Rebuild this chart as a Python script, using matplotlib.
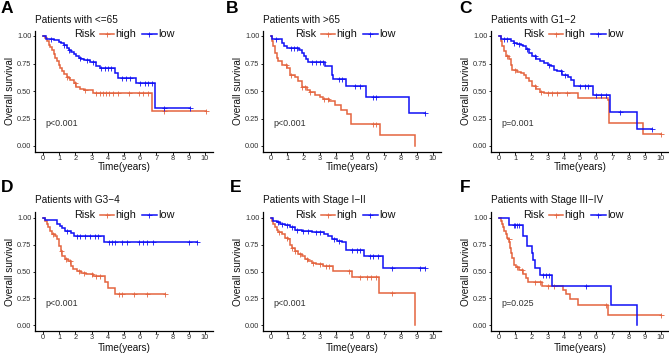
import numpy as np
import matplotlib
matplotlib.use("Agg")
import matplotlib.pyplot as plt
from matplotlib.lines import Line2D

plt.rcParams['font.family'] = ['Liberation Sans', 'DejaVu Sans']

# ---------------- data ----------------
panel_letters = ["A", "B", "C", "D", "E", "F"]
panel_titles = ["Patients with <=65", "Patients with >65", "Patients with G1\u22122",
                "Patients with G3\u22124", "Patients with Stage I\u2212II", "Patients with Stage III\u2212IV"]
p_values = ["p<0.001", "p<0.001", "p=0.001", "p<0.001", "p<0.001", "p=0.025"]
x_ticks = [0, 1, 2, 3, 4, 5, 6, 7, 8, 9, 10]
y_ticks = [0.00, 0.25, 0.50, 0.75, 1.00]
y_tick_labels = ["0.00", "0.25", "0.50", "0.75", "1.00"]
legend_title = "Risk"
group_labels = ["high", "low"]

# Panel A
A_high_t = [0, 0.1, 0.25, 0.35, 0.45, 0.55, 0.66, 0.76, 0.86, 0.97, 1.07, 1.17, 1.28, 1.48, 1.6, 1.69, 1.9, 2.05, 2.25, 2.5, 3.1, 6.7]
A_high_s = [1.0, 0.98, 0.955, 0.92, 0.90, 0.87, 0.84, 0.80, 0.77, 0.74, 0.71, 0.68, 0.655, 0.63, 0.615, 0.60, 0.57, 0.54, 0.52, 0.505, 0.48, 0.32]
A_high_end = 10.05
A_high_cens = [1.5, 2.0, 2.6, 3.3, 3.5, 3.7, 3.9, 4.1, 4.3, 4.6, 5.3, 5.9, 6.2, 6.5, 7.5, 10.05]
A_low_t = [0, 0.15, 0.7, 0.97, 1.1, 1.27, 1.45, 1.58, 1.75, 1.89, 2.05, 2.2, 2.35, 2.5, 2.9, 3.3, 3.5, 4.45, 4.66, 5.75, 6.92]
A_low_s = [1.0, 0.975, 0.965, 0.95, 0.935, 0.92, 0.895, 0.87, 0.855, 0.84, 0.82, 0.80, 0.79, 0.78, 0.765, 0.73, 0.705, 0.66, 0.62, 0.575, 0.345]
A_low_end = 9.07
A_low_cens = [0.5, 1.3, 1.6, 2.3, 2.7, 3.1, 3.6, 3.8, 4.0, 4.2, 4.9, 5.1, 5.4, 6.0, 6.3, 6.5, 6.7, 7.5, 9.07]

# Panel B
B_high_t = [0, 0.08, 0.14, 0.25, 0.35, 0.45, 0.66, 0.97, 1.17, 1.48, 1.69, 1.89, 2.2, 2.4, 2.7, 3.0, 3.2, 3.6, 3.95, 4.3, 4.67, 4.95, 6.75, 8.9]
B_high_s = [1.0, 0.955, 0.91, 0.85, 0.80, 0.77, 0.74, 0.71, 0.65, 0.63, 0.59, 0.54, 0.51, 0.49, 0.465, 0.45, 0.425, 0.41, 0.37, 0.33, 0.29, 0.20, 0.10, 0.0]
B_high_end = 8.9
B_high_cens = [0.9, 1.2, 1.9, 2.1, 2.4, 3.3, 3.5, 6.3, 6.5]
B_low_t = [0, 0.05, 0.65, 0.82, 1.0, 1.75, 1.9, 2.05, 2.16, 2.27, 3.35, 3.75, 3.85, 4.6, 5.85, 8.55]
B_low_s = [1.0, 0.97, 0.935, 0.91, 0.89, 0.87, 0.845, 0.82, 0.79, 0.76, 0.725, 0.65, 0.605, 0.545, 0.45, 0.30]
B_low_end = 9.5
B_low_cens = [0.3, 1.2, 1.4, 1.6, 2.5, 2.8, 3.0, 3.2, 4.2, 4.4, 5.2, 5.5, 6.3, 6.5, 9.5]

# Panel C
C_high_t = [0, 0.1, 0.2, 0.31, 0.45, 0.62, 0.72, 0.82, 1.13, 1.33, 1.54, 1.64, 1.85, 2.05, 2.3, 2.5, 2.8, 4.9, 6.7, 6.8, 8.9]
C_high_s = [1.0, 0.955, 0.91, 0.86, 0.82, 0.79, 0.74, 0.69, 0.675, 0.665, 0.65, 0.62, 0.59, 0.545, 0.515, 0.495, 0.48, 0.435, 0.42, 0.21, 0.11]
C_high_end = 10.0
C_high_cens = [0.5, 1.0, 2.2, 2.6, 3.0, 3.3, 3.6, 4.2, 10.0]
C_low_t = [0, 0.1, 0.72, 0.9, 1.13, 1.35, 1.5, 1.64, 1.85, 2.05, 2.3, 2.5, 2.8, 3.0, 3.2, 3.4, 3.6, 3.9, 4.25, 4.45, 4.65, 5.8, 6.85, 8.55]
C_low_s = [1.0, 0.97, 0.955, 0.94, 0.925, 0.915, 0.905, 0.88, 0.85, 0.82, 0.79, 0.77, 0.755, 0.74, 0.725, 0.695, 0.68, 0.65, 0.63, 0.60, 0.545, 0.46, 0.305, 0.155]
C_low_end = 9.45
C_low_cens = [0.3, 0.5, 0.9, 1.2, 1.7, 2.2, 3.1, 3.8, 4.1, 5.0, 5.3, 5.5, 6.0, 6.3, 6.6, 7.5, 9.45]

# Panel D
D_high_t = [0, 0.12, 0.22, 0.33, 0.43, 0.53, 0.74, 0.88, 1.0, 1.08, 1.15, 1.35, 1.55, 1.7, 1.86, 2.07, 2.37, 2.68, 3.09, 3.8, 4.0, 4.45]
D_high_s = [1.0, 0.97, 0.94, 0.91, 0.875, 0.845, 0.83, 0.80, 0.74, 0.69, 0.645, 0.615, 0.60, 0.55, 0.52, 0.505, 0.49, 0.475, 0.455, 0.40, 0.35, 0.295]
D_high_end = 7.55
D_high_cens = [0.6, 1.1, 1.4, 1.65, 2.2, 2.5, 3.0, 3.3, 3.5, 4.7, 4.9, 5.6, 6.4, 7.55]
D_low_t = [0, 0.1, 0.85, 1.05, 1.17, 1.35, 1.7, 1.93, 3.75]
D_low_s = [1.0, 0.98, 0.945, 0.92, 0.905, 0.875, 0.855, 0.83, 0.77]
D_low_end = 9.5
D_low_cens = [1.5, 2.1, 2.3, 2.6, 2.9, 3.2, 3.4, 4.05, 4.25, 4.45, 4.85, 5.2, 5.9, 6.2, 6.4, 6.8, 9.0, 9.5]

# Panel E
E_high_t = [0, 0.08, 0.14, 0.25, 0.35, 0.45, 0.65, 0.86, 1.06, 1.17, 1.27, 1.47, 1.68, 1.88, 2.09, 2.29, 2.5, 2.8, 3.2, 3.8, 5.0, 6.67, 8.87]
E_high_s = [1.0, 0.97, 0.94, 0.91, 0.885, 0.865, 0.845, 0.815, 0.80, 0.75, 0.72, 0.69, 0.66, 0.645, 0.615, 0.60, 0.58, 0.57, 0.55, 0.505, 0.45, 0.30, 0.0]
E_high_end = 8.87
E_high_cens = [0.5, 1.0, 1.3, 1.5, 1.8, 2.2, 2.6, 3.0, 3.4, 3.6, 4.8, 5.5, 5.9, 6.2, 6.5, 7.5]
E_low_t = [0, 0.14, 0.35, 0.55, 0.86, 1.17, 1.48, 1.89, 2.5, 3.3, 3.5, 3.74, 4.05, 4.36, 4.62, 5.77, 6.9]
E_low_s = [1.0, 0.97, 0.96, 0.945, 0.93, 0.91, 0.89, 0.875, 0.865, 0.845, 0.83, 0.805, 0.785, 0.77, 0.70, 0.645, 0.535]
E_low_end = 9.5
E_low_cens = [0.4, 0.7, 1.0, 1.3, 1.6, 2.0, 2.3, 2.8, 3.0, 3.9, 4.2, 5.0, 5.3, 5.5, 6.1, 6.3, 6.6, 7.5, 9.2, 9.5]

# Panel F
F_high_t = [0, 0.12, 0.21, 0.27, 0.33, 0.41, 0.47, 0.58, 0.62, 0.68, 0.74, 0.82, 0.95, 1.03, 1.2, 1.5, 1.65, 1.77, 2.67, 3.95, 4.15, 4.38, 4.9, 6.75]
F_high_s = [1.0, 0.97, 0.94, 0.91, 0.875, 0.845, 0.815, 0.80, 0.77, 0.72, 0.675, 0.63, 0.565, 0.545, 0.515, 0.475, 0.44, 0.40, 0.365, 0.325, 0.29, 0.245, 0.19, 0.095]
F_high_end = 10.0
F_high_cens = [0.6, 1.1, 1.4, 2.2, 2.5, 3.0, 3.4, 6.6, 10.0]
F_low_t = [0, 0.6, 1.47, 1.72, 2.02, 2.12, 2.22, 2.5, 3.25, 6.9, 8.5]
F_low_s = [1.0, 0.935, 0.83, 0.735, 0.675, 0.61, 0.535, 0.47, 0.365, 0.185, 0.0]
F_low_end = 8.5
F_low_cens = [0.9, 1.0, 1.1, 1.2, 2.7, 2.9, 3.1, 5.4]

panels = [
    ((A_high_t, A_high_s, A_high_end, A_high_cens), (A_low_t, A_low_s, A_low_end, A_low_cens)),
    ((B_high_t, B_high_s, B_high_end, B_high_cens), (B_low_t, B_low_s, B_low_end, B_low_cens)),
    ((C_high_t, C_high_s, C_high_end, C_high_cens), (C_low_t, C_low_s, C_low_end, C_low_cens)),
    ((D_high_t, D_high_s, D_high_end, D_high_cens), (D_low_t, D_low_s, D_low_end, D_low_cens)),
    ((E_high_t, E_high_s, E_high_end, E_high_cens), (E_low_t, E_low_s, E_low_end, E_low_cens)),
    ((F_high_t, F_high_s, F_high_end, F_high_cens), (F_low_t, F_low_s, F_low_end, F_low_cens)),
]

# ---------------- styling / layout ----------------
W, H = 669, 353
HIGH_COL = "#E4643F"
LOW_COL = "#1010F5"
colors = [HIGH_COL, LOW_COL]

fig = plt.figure(figsize=(W / 100, H / 100), dpi=100)

def fx(px):
    return px / W

def fy(py):
    return 1 - py / H

col_left = [35, 263, 491]
ax_w = 178
row_top = [30.5, 212.3]
row_bot = [151.5, 330.8]
legend_left = [74, 295, 523]
legend_y = [34.3, 215]
title_y = [20, 200.3]
xlabel_y = [167.3, 347.8]
letter_x = [[1, 226, 459], [0.5, 229.5, 459.5]]
letter_base = [13.3, 192.3]

def draw_curve(ax, t, s, end, cens, col):
    t = np.asarray(t, float)
    s = np.asarray(s, float)
    ax.step(np.r_[t, end], np.r_[s, s[-1]], where="post", color=col, lw=1.1, solid_joinstyle="miter")
    c = np.asarray(cens, float)
    idx = np.searchsorted(t, c, side="right") - 1
    ax.plot(c, s[idx], ls="none", marker="+", ms=3.6, mew=0.6, color=col)

for i, (hi, lo) in enumerate(panels):
    r, cidx = divmod(i, 3)
    left = col_left[cidx]
    top, bot = row_top[r], row_bot[r]
    ax = fig.add_axes([fx(left), fy(bot), fx(ax_w), (bot - top) / H])
    draw_curve(ax, *hi, HIGH_COL)
    draw_curve(ax, *lo, LOW_COL)
    ax.set_xlim(-0.5, 10.5)
    ax.set_ylim(-0.05, 1.05)
    ax.set_xticks(x_ticks)
    ax.set_yticks(y_ticks)
    ax.set_yticklabels(y_tick_labels)
    for sp in ["top", "right"]:
        ax.spines[sp].set_visible(False)
    for sp in ["left", "bottom"]:
        ax.spines[sp].set_linewidth(0.9)
    ax.tick_params(length=1.8, width=0.6, labelsize=5.3, labelcolor="#303030")
    ax.tick_params(axis="x", pad=0.4)
    ax.tick_params(axis="y", pad=0.8)
    ax.patch.set_alpha(0)
    ax.text(0.12, 0.2, p_values[i], fontsize=6.4, color="#303030", ha="left", va="center")

    # title
    fig.text(fx(left), fy(title_y[r]), panel_titles[i], fontsize=7.2, ha="left", va="center", color="#111111")
    # axis labels
    fig.text(fx(left - 25), fy((top + bot) / 2), "Overall survival", rotation=90, fontsize=7.2,
             ha="center", va="center", color="#111111")
    fig.text(fx(left + ax_w / 2), fy(xlabel_y[r]), "Time(years)", fontsize=7.2, ha="center", va="center",
             color="#111111")
    # panel letter
    fig.text(fx(letter_x[r][cidx]), fy(letter_base[r]), panel_letters[i], fontsize=12.5, fontweight="bold",
             ha="left", va="baseline", color="black")

    # legend
    lx = legend_left[cidx]
    ly = fy(legend_y[r])
    fig.text(fx(lx), ly, legend_title, fontsize=7.8, ha="left", va="center", color="#111111")
    seg_offsets = [(26, 39.5, 41), (67.5, 82.5, 84.3)]
    for g, (a, b, tx) in enumerate(seg_offsets):
        fig.add_artist(Line2D([fx(lx + a), fx(lx + b)], [ly, ly], color=colors[g], lw=1.1,
                              transform=fig.transFigure))
        fig.add_artist(Line2D([fx(lx + (a + b) / 2)], [ly], color=colors[g], marker="+", ms=3.6, mew=0.6,
                              ls="none", transform=fig.transFigure))
        fig.text(fx(lx + tx), ly, group_labels[g], fontsize=7.8, ha="left", va="center", color="#111111")

fig.savefig("out.png", dpi=100)
